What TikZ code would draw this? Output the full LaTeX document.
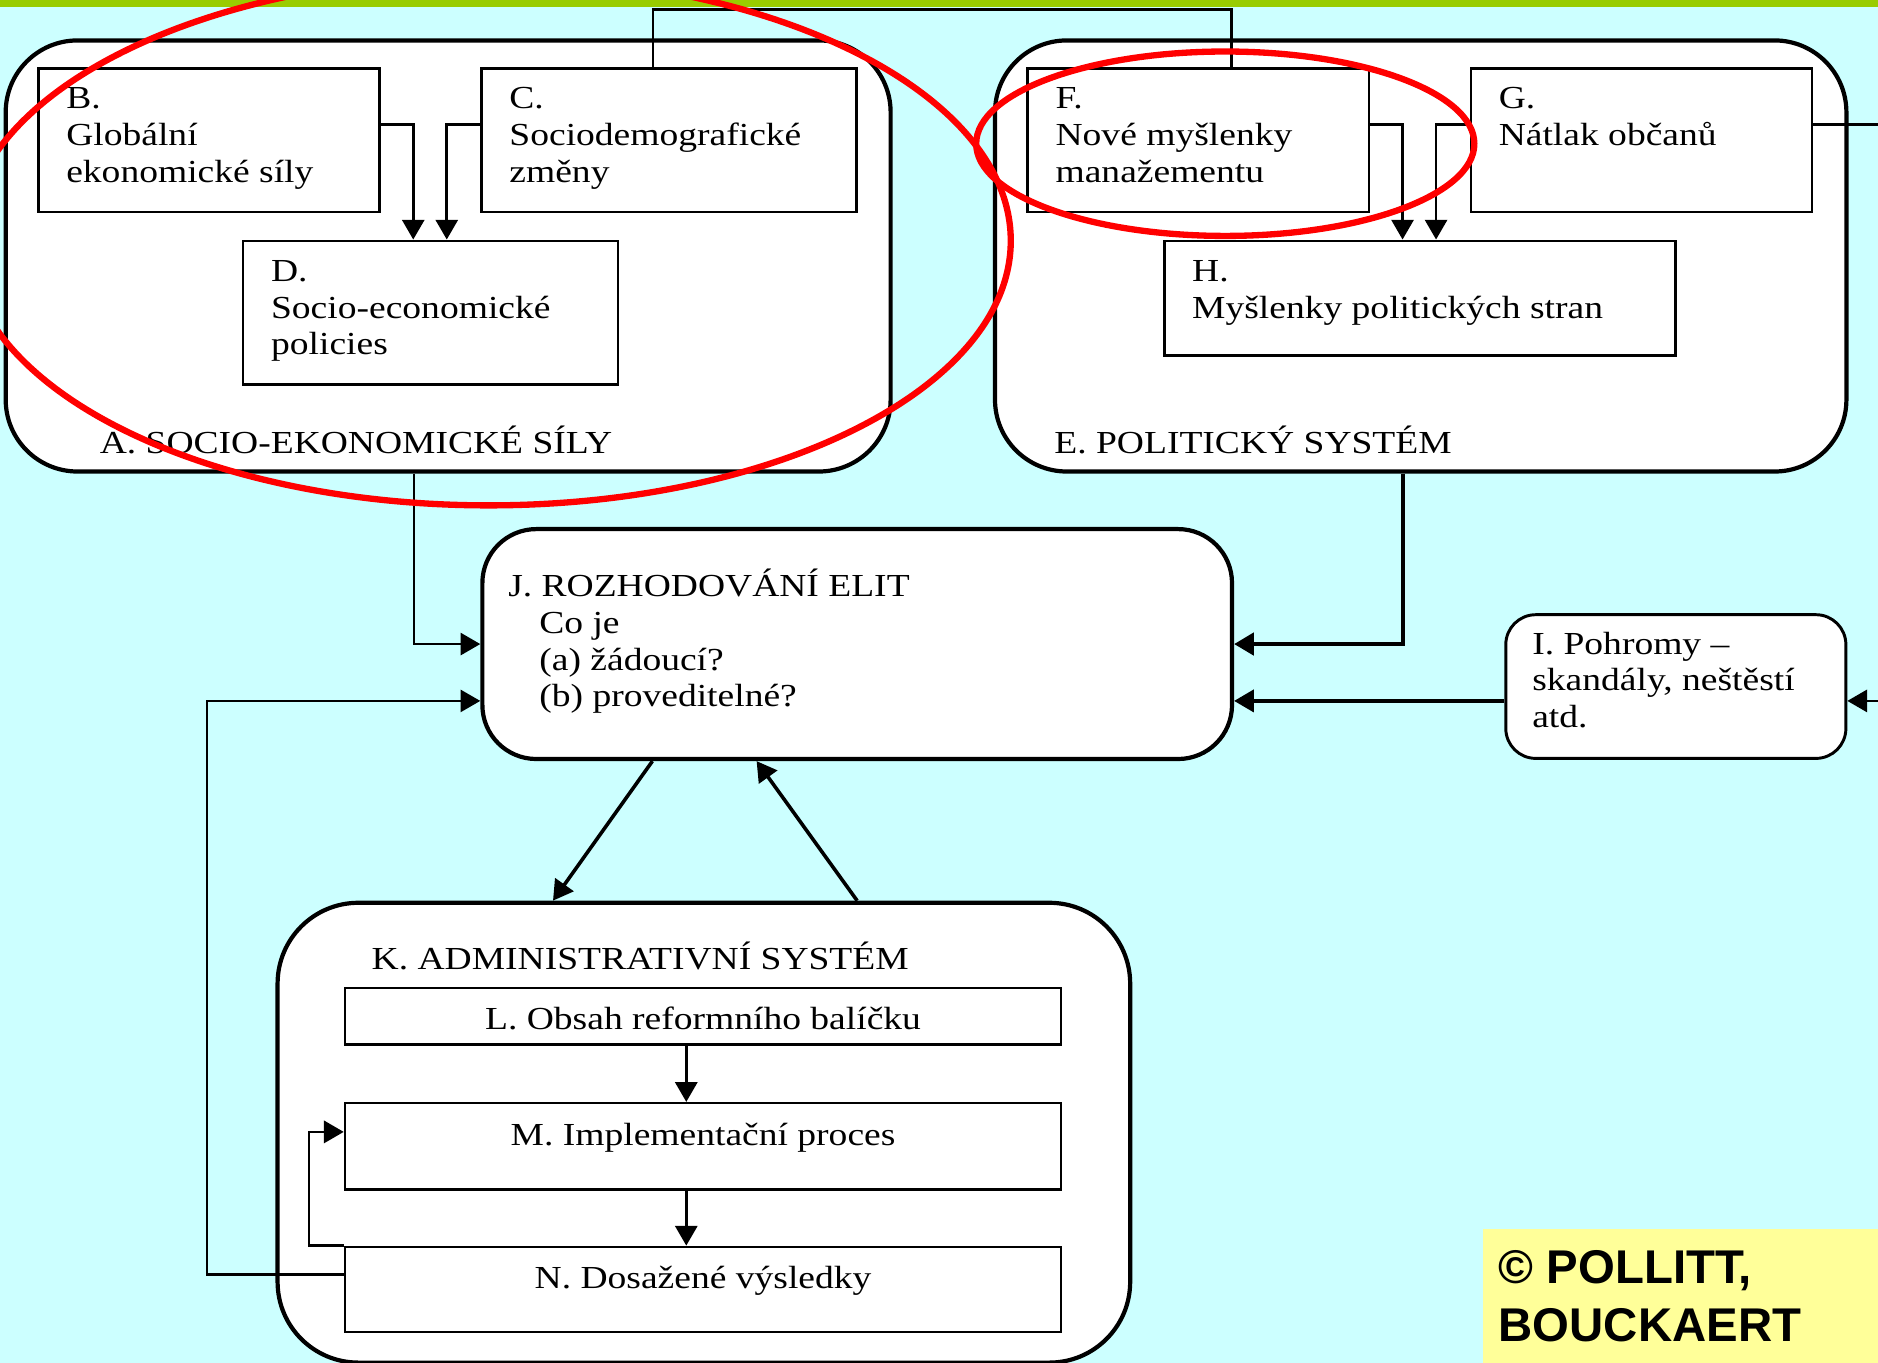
\documentclass[tikz,border=0pt]{standalone}
\usepackage{fontspec}
\setmainfont{Liberation Serif}[FakeStretch=1.17]
\newfontfamily\notefont{Liberation Sans}
\usetikzlibrary{
  positioning,
  calc,
  arrows.meta
}
\definecolor{bgcyan}{HTML}{CCFFFF}
\definecolor{topgreen}{HTML}{99CC00}
\definecolor{noteyellow}{HTML}{FFFF99}
\newcommand{\capstrut}{\rule{0pt}{1em}}

\begin{document}
\begin{tikzpicture}[
    x=0.02cm, y=-0.02cm,
    font=\fontsize{15.25pt}{17.46pt}\selectfont,
    box/.style={draw=black, fill=white, line width=1.2pt, inner sep=0pt, anchor=north west},
    panel/.style={box, line width=2pt, rounded corners=#1},
    txt/.style={inner sep=0pt, align=left},
    conn/.style={line width=1.25pt, -{Triangle[length=0.33cm,width=0.37cm]}},
    wire/.style={line width=1.2pt},
    ring/.style={draw=red, line width=3pt}
    ]

\useasboundingbox (0,0) rectangle (1568,1138);
\clip (0,0) rectangle (1568,1138);
\fill[bgcyan] (0,0) rectangle (1568,1138);
\fill[topgreen] (0,0) rectangle (1568,6);

\node[box, draw=none, fill=noteyellow, minimum width=6.8cm, minimum height=2.4cm] (note) at (1237,1025) {};
\node[txt, font=\notefont\bfseries\fontsize{22.5pt}{27.3pt}\selectfont,
  below right=0.14cm and 0.28cm of note.north west] (notetext) {\capstrut© POLLITT,\\BOUCKAERT};

\node[panel=1.2cm, minimum width=14.78cm, minimum height=7.2cm] (A) at (3,32) {};
\node[panel=1.2cm, minimum width=14.22cm, minimum height=7.2cm] (E) at (829,32) {};
\node[panel=0.9cm, minimum width=12.52cm, minimum height=3.84cm] (J) at (401,440) {};
\node[panel=1.35cm, minimum width=14.24cm, minimum height=7.68cm] (K) at (230,752) {};
\node[box, line width=1.4pt, rounded corners=0.5cm, minimum width=5.68cm, minimum height=2.4cm] (I) at (1256,512) {};

\node[box, minimum width=5.7cm, minimum height=2.4cm] (B) at (31,56) {};
\node[box, minimum width=6.26cm, minimum height=2.4cm] (C) at (401,56) {};
\node[box, minimum width=6.26cm, minimum height=2.4cm] (D) at (202,200) {};
\node[box, minimum width=5.7cm, minimum height=2.4cm] (F) at (857,56) {};
\node[box, minimum width=5.7cm, minimum height=2.4cm] (G) at (1227,56) {};
\node[box, minimum width=8.54cm, minimum height=1.92cm] (H) at (971,200) {};
\node[box, minimum width=11.96cm, minimum height=0.94cm] (L) at (287,824) {};
\node[box, minimum width=11.96cm, minimum height=1.44cm] (M) at (287,920) {};
\node[box, minimum width=11.96cm, minimum height=1.42cm] (N) at (287,1040) {};

\node[txt, below right=0.155cm and 0.48cm of B.north west] (Btext) {\capstrut B.\\Globální\\ekonomické síly};
\node[txt, below right=0.155cm and 0.48cm of C.north west] (Ctext) {\capstrut C.\\Sociodemografické\\změny};
\node[txt, below right=0.155cm and 0.48cm of D.north west] (Dtext) {\capstrut D.\\Socio-economické\\policies};
\node[txt, below right=0.155cm and 0.48cm of F.north west] (Ftext) {\capstrut F.\\Nové myšlenky\\manažementu};
\node[txt, below right=0.155cm and 0.48cm of G.north west] (Gtext) {\capstrut G.\\Nátlak občanů};
\node[txt, below right=0.155cm and 0.48cm of H.north west] (Htext) {\capstrut H.\\Myšlenky politických stran};
\node[txt, above right=0.32cm and 1.6cm of A.south west] (Atext) {\capstrut A. SOCIO-EKONOMICKÉ SÍLY};
\node[txt, above right=0.32cm and 1.02cm of E.south west] (Etext) {\capstrut E. POLITICKÝ SYSTÉM};
\node[txt, below right=0.62cm and 0.46cm of J.north west] (Jtext) {\capstrut J. ROZHODOVÁNÍ ELIT\\
  \hspace*{0.52cm}Co je\\\hspace*{0.52cm}(a) žádoucí?\\\hspace*{0.52cm}(b) proveditelné?};
\node[txt, below right=0.14cm and 0.46cm of I.north west] (Itext) {\capstrut I. Pohromy –\\skandály, neštěstí\\atd.};
\node[txt, below right=0.6cm and 1.6cm of K.north west] (Ktext) {\capstrut K. ADMINISTRATIVNÍ SYSTÉM};
\node[txt, below=0.16cm of L.north] (Ltext) {\capstrut L. Obsah reformního balíčku};
\node[txt, below=0.18cm of M.north] (Mtext) {\capstrut M. Implementační proces};
\node[txt, below=0.18cm of N.north] (Ntext) {\capstrut N. Dosažené výsledky};

\draw[conn] ([yshift=0.26cm]B.east) -| ([xshift=-0.29cm]D.north);
\draw[conn] ([yshift=0.26cm]C.west) -| ([xshift=0.27cm]D.north);
\draw[conn] ([yshift=0.26cm]F.east) -| ([xshift=-0.29cm]H.north);
\draw[conn] ([yshift=0.26cm]G.west) -| ([xshift=0.27cm]H.north);

\coordinate (rail) at (0,8);
\coordinate (cup) at ([xshift=-0.27cm]C.north);
\coordinate (fup) at ([xshift=0.55cm]F.north);
\draw[wire] (cup) -- (cup |- rail) -| (fup);

\coordinate (iin) at ([yshift=-0.24cm]I.east);
\draw[conn] ([yshift=0.26cm]G.east) -- ++(70,0) |- (iin);

\draw[conn] ([xshift=-0.57cm]A.south) |- (J.west);
\draw[conn, line width=2pt] ([xshift=-0.29cm]E.south) |- (J.east);
\coordinate (iout) at ([yshift=-0.24cm]I.west);
\draw[conn, line width=1.6pt] (iout) -- (iout -| J.east);
\coordinate (jlow) at (iout -| J.west);
\coordinate (lx) at (173,0);
\draw[conn, line width=1.1pt] ([yshift=0.25cm]N.west) -| (lx |- jlow) -- (jlow);

\draw[conn, line width=1.7pt] ([xshift=-3.42cm]J.south) -- ([xshift=-2.52cm]K.north);
\draw[conn, line width=1.7pt] ([xshift=2.56cm]K.north) -- ([xshift=-1.68cm]J.south);
\draw[conn] ([xshift=-0.28cm]L.south) -- ([xshift=-0.28cm]M.north);
\draw[conn] ([xshift=-0.28cm]M.south) -- ([xshift=-0.28cm]N.north);
\draw[conn] (N.north west) -- ++(-29,0) |- ([yshift=0.24cm]M.west);

\draw[ring] (408,201) ellipse [x radius=8.72cm, y radius=4.42cm];
\draw[ring] (1023,120) ellipse [x radius=4.16cm, y radius=1.54cm];
\end{tikzpicture}
\end{document}
